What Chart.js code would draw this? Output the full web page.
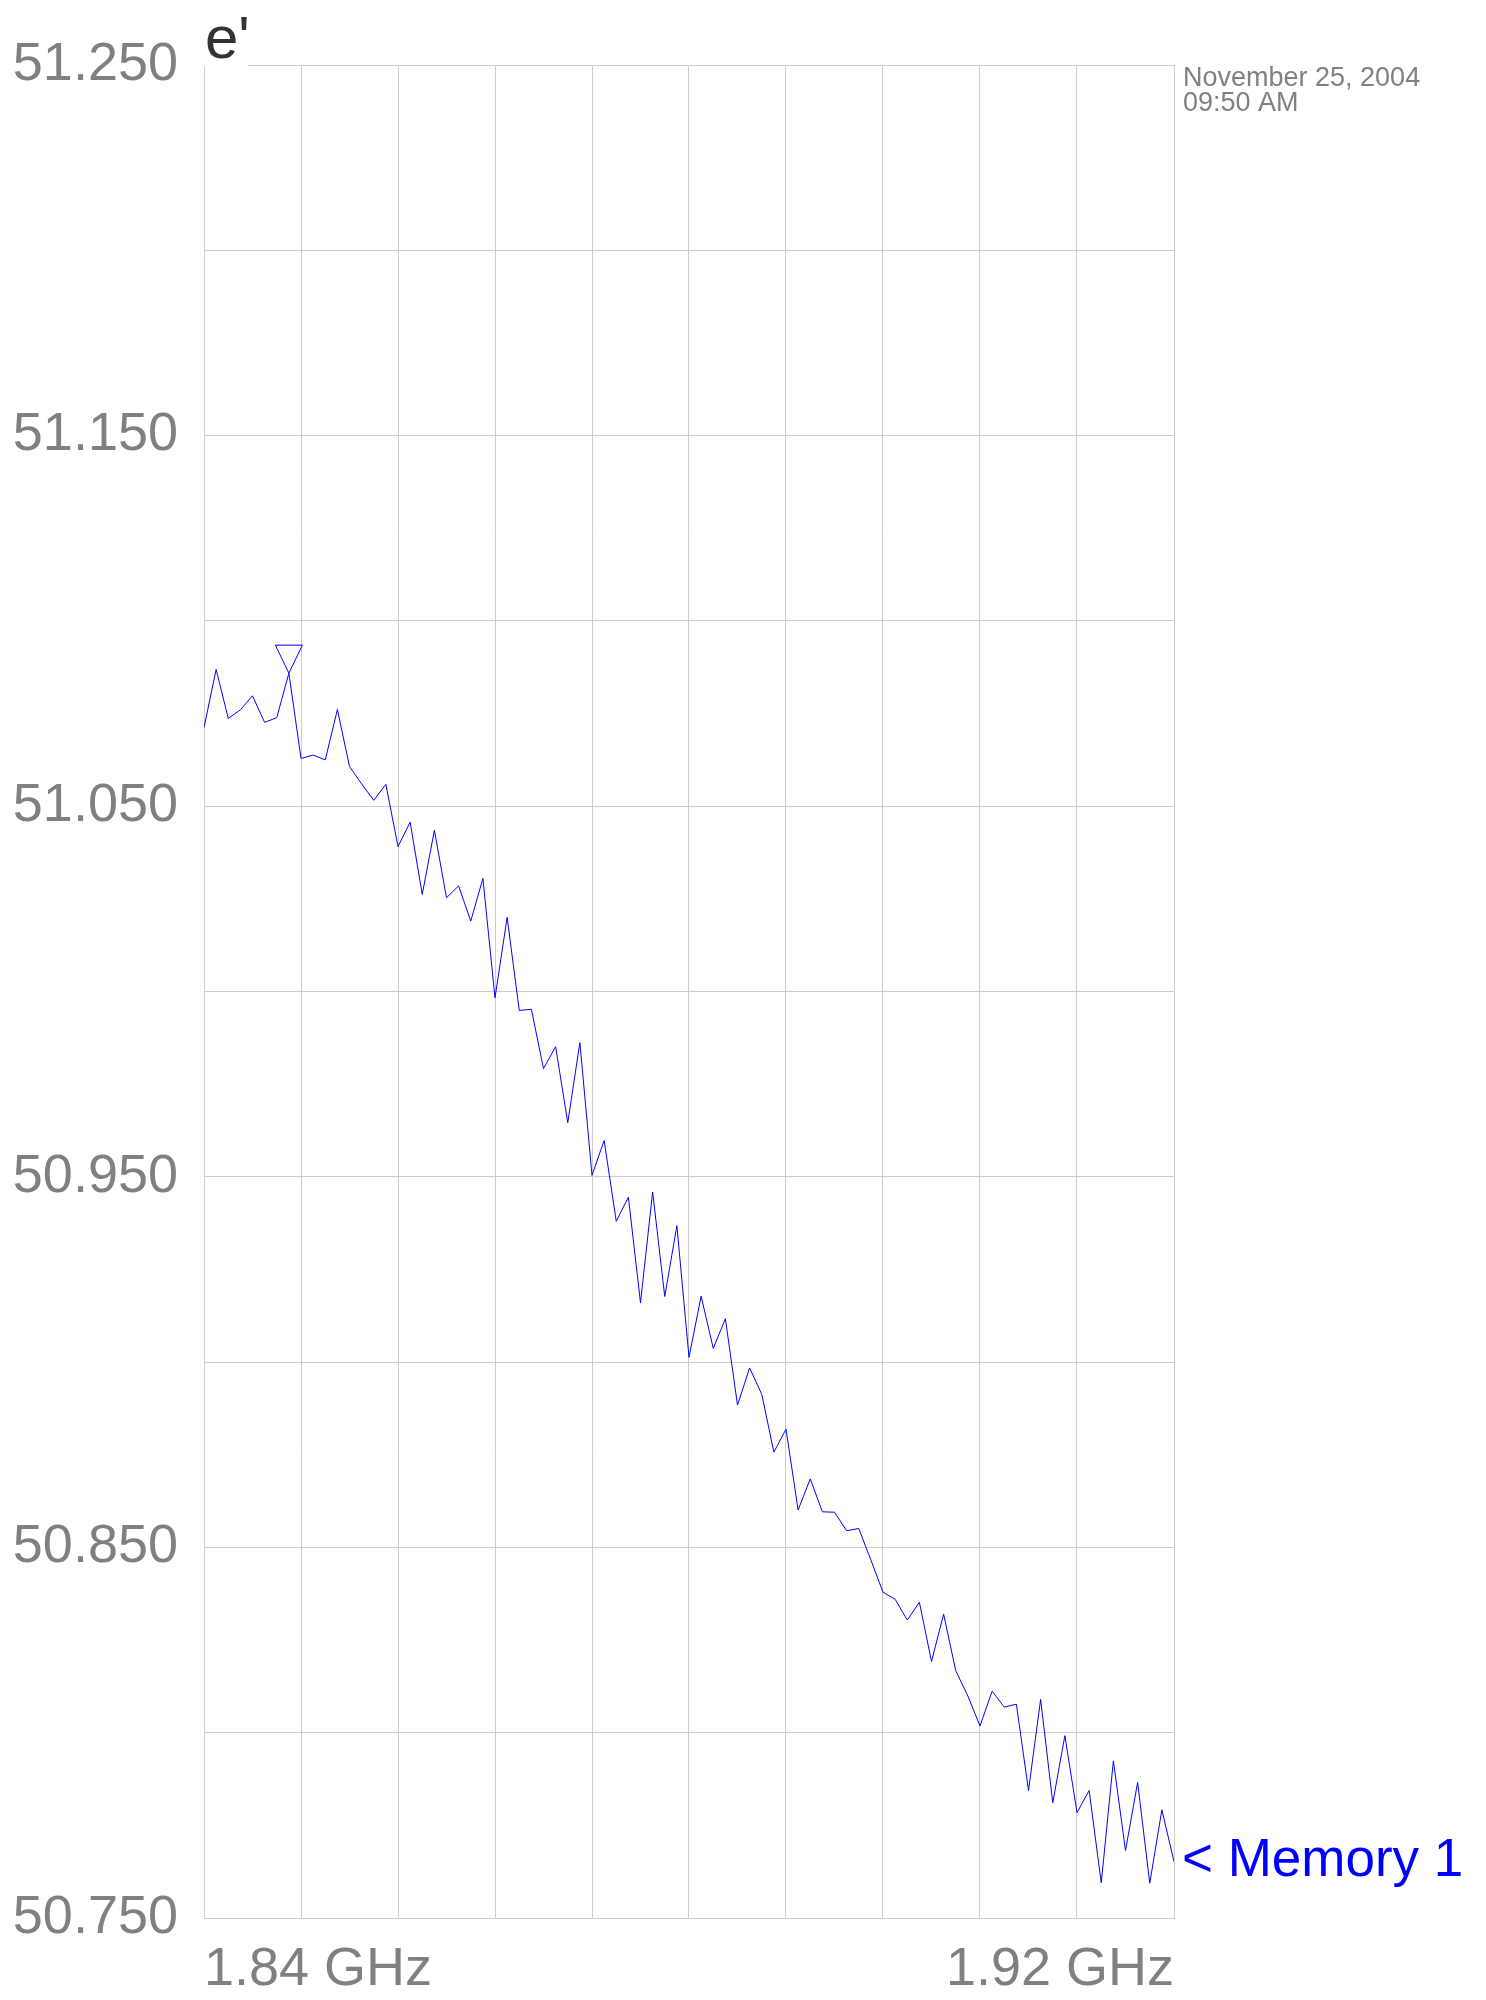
<!DOCTYPE html>
<html>
<head>
<meta charset="utf-8">
<title>e' Memory 1</title>
<script src="https://cdn.jsdelivr.net/npm/chart.js@4.4.0/dist/chart.umd.min.js"></script>
<style>
  body { margin: 0; background: #ffffff; }
  canvas { display: block; }
</style>
</head>
<body>
<canvas id="epsChart" width="1486" height="2000"></canvas>
<script>
// sweep settings
const startGHz = 1.84;
const stopGHz = 1.92;
const sweepPoints = 81;

// e' readings (Memory 1), one per sweep point
const memory1 = [
  51.0712, 51.0869, 51.0737, 51.0760, 51.0798, 51.0726, 51.0739, 51.0859, 51.0629, 51.0638,
  51.0625, 51.0761, 51.0607, 51.0560, 51.0516, 51.0559, 51.0391, 51.0457, 51.0262, 51.0435,
  51.0253, 51.0285, 51.0190, 51.0305, 50.9983, 51.0200, 50.9949, 50.9952, 50.9792, 50.9851,
  50.9646, 50.9862, 50.9504, 50.9598, 50.9380, 50.9445, 50.9160, 50.9459, 50.9177, 50.9368,
  50.9013, 50.9178, 50.9037, 50.9117, 50.8884, 50.8984, 50.8913, 50.8757, 50.8819, 50.8601,
  50.8685, 50.8596, 50.8595, 50.8545, 50.8551, 50.8466, 50.8379, 50.8360, 50.8304, 50.8352,
  50.8192, 50.8320, 50.8167, 50.8099, 50.8018, 50.8112, 50.8069, 50.8077, 50.7844, 50.8090,
  50.7811, 50.7992, 50.7784, 50.7844, 50.7595, 50.7924, 50.7682, 50.7866, 50.7594, 50.7792,
  50.7652
];

// axis settings
const yMin = 50.75;
const yMax = 51.25;
const yStep = 0.05;
const markerIndex = 7;
const traceName = '< Memory 1';
const yTitle = "e'";
const stampLines = ['November 25, 2004', '09:50 AM'];

const gridColor = '#cccccc';
const tickColor = '#808080';
const traceColor = '#0000ff';
const fontFamily = '"Liberation Sans", Arial, sans-serif';

const stepGHz = (stopGHz - startGHz) / (sweepPoints - 1);
const points = memory1.map((v, i) => ({ x: startGHz + i * stepGHz, y: v }));

// marker triangle, trace name, y title and time stamp
const annotations = {
  id: 'annotations',
  afterDatasetsDraw(chart) {
    const ctx = chart.ctx;
    const pt = chart.getDatasetMeta(0).data[markerIndex];
    ctx.save();
    ctx.strokeStyle = traceColor;
    ctx.lineWidth = 1;
    ctx.beginPath();
    ctx.moveTo(pt.x - 13.5, pt.y - 28);
    ctx.lineTo(pt.x + 13.5, pt.y - 28);
    ctx.lineTo(pt.x, pt.y);
    ctx.closePath();
    ctx.stroke();
    ctx.restore();
  },
  afterDraw(chart) {
    const ctx = chart.ctx;
    const area = chart.chartArea;
    const yScale = chart.scales.y;
    ctx.save();

    // y title sits on a white patch over the frame
    ctx.fillStyle = '#ffffff';
    ctx.fillRect(area.left, 0, 44, area.top + 1.5);
    ctx.fillStyle = '#333333';
    ctx.font = '60px ' + fontFamily;
    ctx.textAlign = 'left';
    ctx.textBaseline = 'alphabetic';
    ctx.fillText(yTitle, area.left + 1, 58);

    // trace name at the last reading
    const lastY = yScale.getPixelForValue(memory1[memory1.length - 1]);
    ctx.fillStyle = traceColor;
    ctx.font = '53px ' + fontFamily;
    ctx.textBaseline = 'middle';
    ctx.fillText(traceName, area.right + 8, lastY);

    // time stamp
    ctx.fillStyle = tickColor;
    ctx.font = '27px ' + fontFamily;
    ctx.textBaseline = 'top';
    stampLines.forEach((s, i) => ctx.fillText(s, area.right + 9, area.top + i * 25));
    ctx.restore();
  }
};

new Chart(document.getElementById('epsChart'), {
  type: 'line',
  data: {
    datasets: [{
      label: 'Memory 1',
      data: points,
      borderColor: traceColor,
      borderWidth: 1,
      pointRadius: 0,
      tension: 0,
      fill: false
    }]
  },
  options: {
    responsive: false,
    animation: false,
    layout: { padding: { top: 65, right: 312, left: 0, bottom: 0 } },
    plugins: {
      legend: { display: false },
      tooltip: { enabled: false }
    },
    scales: {
      x: {
        type: 'linear',
        min: startGHz,
        max: stopGHz,
        afterFit: s => { s.height = 82; },
        border: { color: gridColor },
        grid: { color: gridColor, drawTicks: false },
        ticks: {
          stepSize: (stopGHz - startGHz) / 10,
          align: 'inner',
          maxRotation: 0,
          autoSkip: false,
          padding: 20,
          color: tickColor,
          font: { family: fontFamily, size: 54 },
          callback: (v, i, ticks) => {
            if (i === 0 || i === ticks.length - 1) return v.toFixed(2) + ' GHz';
            return '';
          }
        }
      },
      y: {
        min: yMin,
        max: yMax,
        afterFit: s => { s.width = 204; },
        border: { color: gridColor },
        grid: { color: gridColor, drawTicks: false },
        ticks: {
          stepSize: yStep,
          padding: 26,
          color: tickColor,
          font: { family: fontFamily, size: 54 },
          callback: v => {
            const n = Math.round((v - yMin) / yStep);
            return n % 2 === 0 ? v.toFixed(3) : '';
          }
        }
      }
    }
  },
  plugins: [annotations]
});
</script>
</body>
</html>
